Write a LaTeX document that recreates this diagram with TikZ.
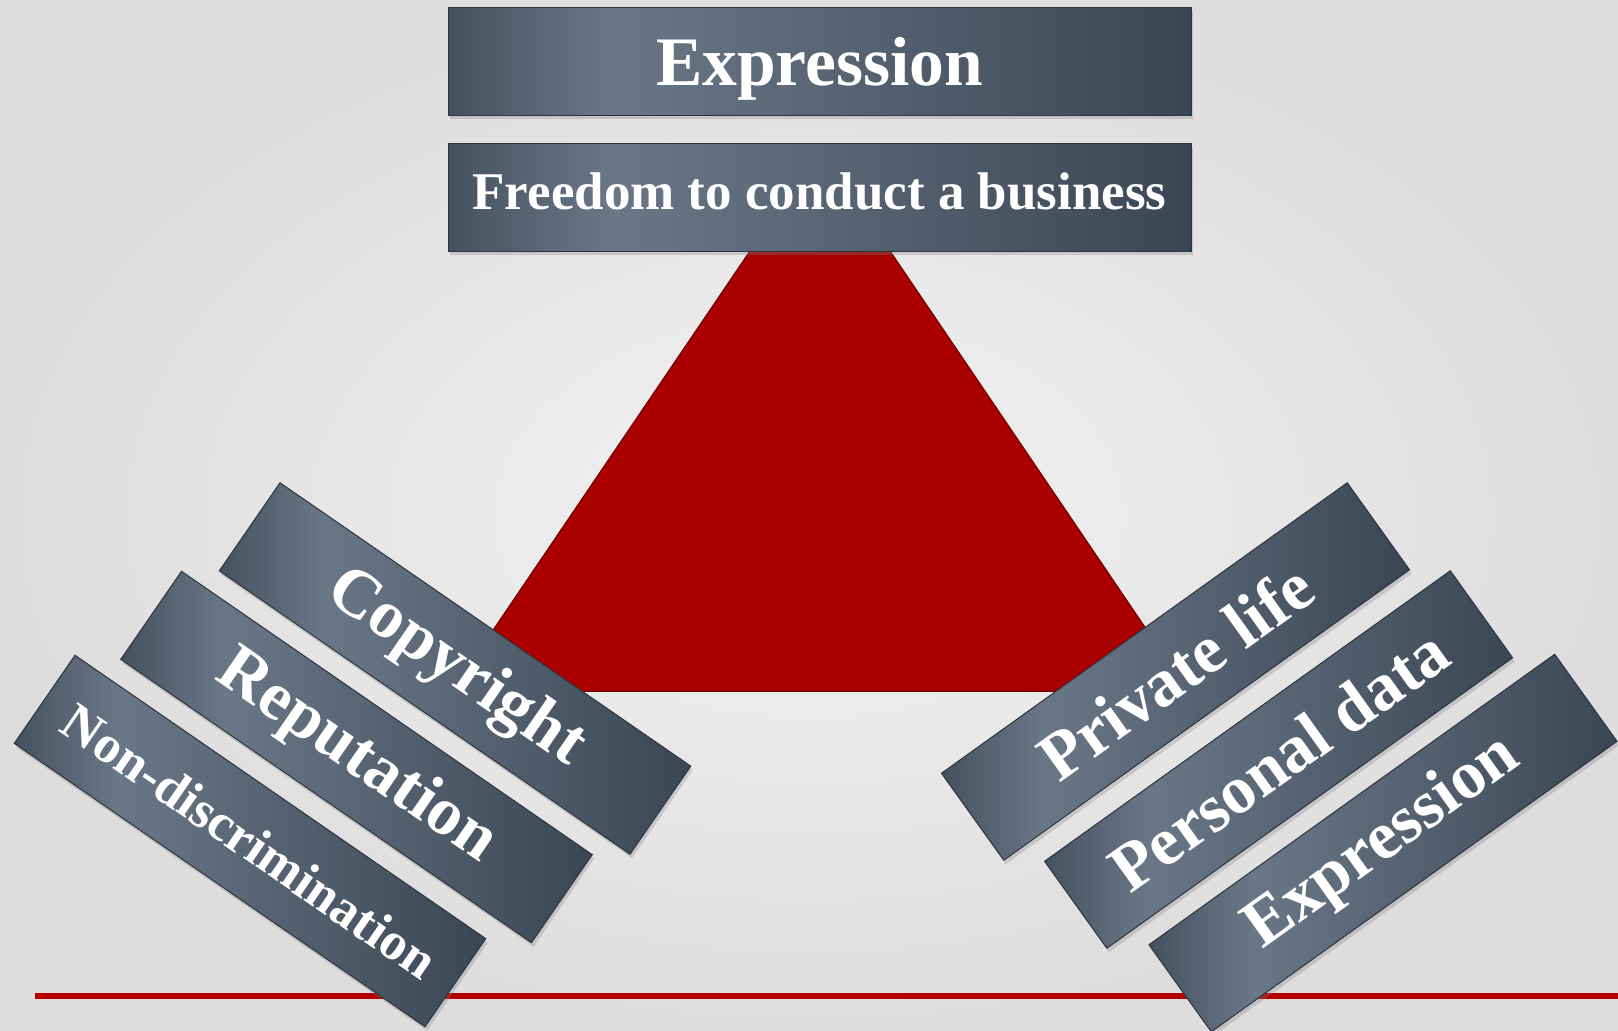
\documentclass[tikz,border=0pt]{standalone}
\usepackage{fontspec}
\setmainfont{Liberation Serif}
\usetikzlibrary{shadows}
\definecolor{bgA}{RGB}{243,243,243}
\definecolor{bgB}{RGB}{221,221,221}
\definecolor{boxA}{RGB}{70,81,95}
\definecolor{boxB}{RGB}{106,119,134}
\definecolor{boxC}{RGB}{59,70,84}
\definecolor{boxedge}{RGB}{44,53,65}
\definecolor{tri}{RGB}{170,0,0}
\definecolor{triedge}{RGB}{125,0,0}
\definecolor{rulered}{RGB}{180,0,0}
\pgfdeclarehorizontalshading{boxshade}{100bp}{color(0bp)=(boxA); color(25bp)=(boxA); color(36bp)=(boxB); color(75bp)=(boxC); color(100bp)=(boxC)}
\tikzset{
  slab/.style={shade, shading=boxshade, draw=boxedge, line width=1pt, inner sep=0pt, text=white,
    drop shadow={shadow xshift=2pt, shadow yshift=-4pt, opacity=0.3}},
  topslab/.style={slab, minimum width=743pt, minimum height=108pt},
  tiltslab/.style={slab, minimum width=499pt, minimum height=107pt},
  fbig/.style={font=\bfseries\fontsize{68}{76}\selectfont},
  ftop/.style={font=\bfseries\fontsize{69.5}{78}\selectfont, text height=60pt, text depth=12pt},
  fmid/.style={font=\bfseries\fontsize{53}{62}\selectfont, text height=40pt, text depth=15pt},
  fsmall/.style={font=\bfseries\fontsize{53}{62}\selectfont},
  leftlean/.style={rotate=-34.6},
  rightlean/.style={rotate=35.6},
}
\begin{document}
\begin{tikzpicture}[x=1pt,y=-1pt]
\useasboundingbox (0,0) rectangle (1618,1031);
\shade[inner color=bgA, outer color=bgB] (0,0) rectangle (1618,1031);
% bottom rule
\coordinate (r1) at (35,996);
\coordinate (r2) at (1618,996);
\draw[rulered, line width=6pt] (r1) -- (r2);
% triangle
\coordinate (apex) at (820,148);
\coordinate (bl) at (452,691);
\coordinate (br) at (1188,691);
\filldraw[fill=tri, draw=triedge, line width=1.5pt, line join=round] (apex) -- (bl) -- (br) -- cycle;
% top slabs
\node[topslab, ftop] (top1) at (819.5,61) {Expression};
\node[topslab, fmid] (top2) at (819.5,197) {Freedom to conduct a business};
% left slabs
\node[tiltslab, leftlean, fbig] (copy) at (455,668.5) {Copyright};
\node[tiltslab, leftlean, fbig] (rep) at (356.5,757) {Reputation};
\node[tiltslab, leftlean, fsmall] (nond) at (250,841) {Non-discrimination};
% right slabs
\node[tiltslab, rightlean, fbig] (priv) at (1175.5,671.5) {Private life};
\node[tiltslab, rightlean, fbig] (pers) at (1278.6,759.5) {Personal data};
\node[tiltslab, rightlean, fbig] (expr2) at (1383,843) {Expression};
\end{tikzpicture}
\end{document}
